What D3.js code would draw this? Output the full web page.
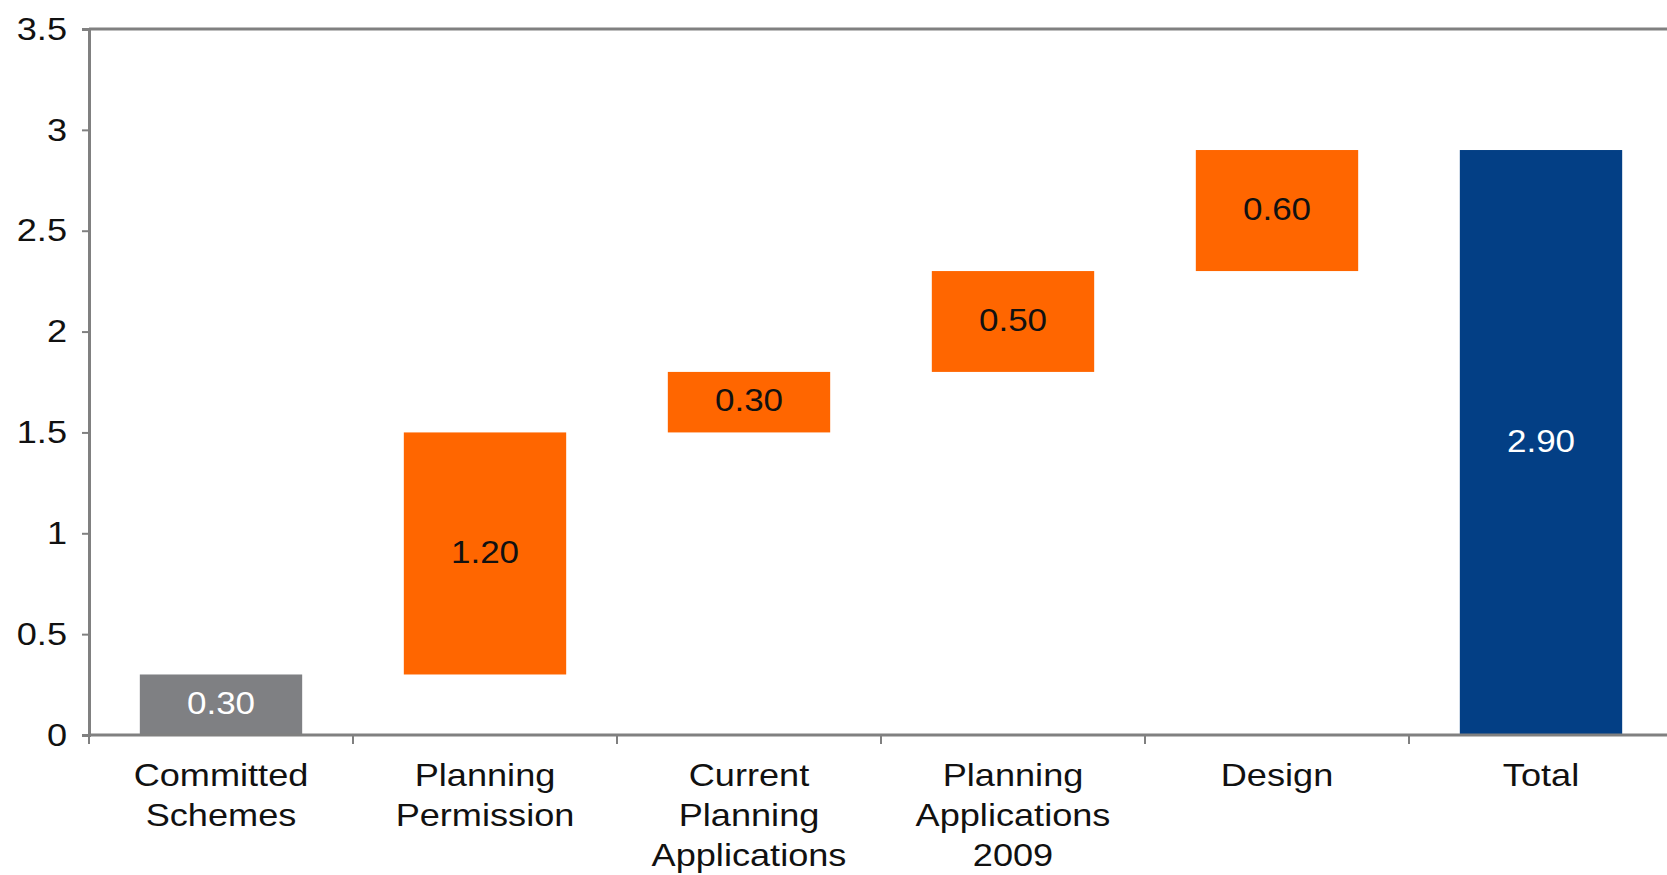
<!DOCTYPE html>
<html>
<head>
<meta charset="utf-8">
<script src="https://cdn.jsdelivr.net/npm/d3@7"></script>
<style>
  body { margin: 0; background: #fff; }
  svg text { font-family: "Liberation Sans", Arial, Helvetica, sans-serif; }
</style>
</head>
<body>
<div id="chart"></div>
<script>
// chart data
const categories = ["Committed Schemes", "Planning Permission", "Current Planning Applications", "Planning Applications 2009", "Design", "Total"];
const categoryLines = [["Committed", "Schemes"], ["Planning", "Permission"], ["Current", "Planning", "Applications"], ["Planning", "Applications", "2009"], ["Design"], ["Total"]];
const values = [0.30, 1.20, 0.30, 0.50, 0.60, 2.90];
const kinds = ["start", "step", "step", "step", "step", "total"];
const yTicks = [0, 0.5, 1, 1.5, 2, 2.5, 3, 3.5];

const colors = { start: "#7f8083", step: "#ff6600", total: "#033f85" };
const labelColors = { start: "#fff", step: "#111", total: "#fff" };

// text in the original is a bit wider than Arial
const stretch = 1.13;

// set the dimensions and margins of the graph
var margin = { top: 29, right: 0, bottom: 140, left: 89 },
  fullW = 1667, fullH = 875,
  height = fullH - margin.top - margin.bottom;

var svg = d3.select("#chart")
  .append("svg")
  .attr("width", fullW)
  .attr("height", fullH)
  .append("g")
  .attr("transform", "translate(" + margin.left + "," + margin.top + ")");

// waterfall bases
let running = 0;
const data = categories.map((c, i) => {
  let lo, hi;
  if (kinds[i] === "total") { lo = 0; hi = values[i]; }
  else { lo = running; hi = running + values[i]; running = hi; }
  return { cat: c, lines: categoryLines[i], value: values[i], kind: kinds[i], lo: lo, hi: hi };
});

var x = d3.scaleBand()
  .domain(categories)
  .range([0, 264 * categories.length])
  .paddingInner(0.385)
  .paddingOuter(0.1925);

var y = d3.scaleLinear()
  .domain([0, 3.5])
  .range([height, 0]);

const axisColor = "#808080";

// Y axis
var yAxis = svg.append("g")
  .call(d3.axisLeft(y).tickValues(yTicks).tickSize(7).tickPadding(13).tickFormat(d => String(d)));
yAxis.select(".domain").attr("stroke", axisColor).attr("stroke-width", 3);
yAxis.selectAll(".tick line").attr("stroke", axisColor).attr("stroke-width", 2);
yAxis.selectAll(".tick text")
  .attr("font-size", 32).attr("fill", "#111")
  .attr("x", -22 / stretch)
  .attr("transform", "scale(" + stretch + ",1)");

// top border
svg.append("line")
  .attr("x1", 0).attr("x2", fullW)
  .attr("y1", y(3.5)).attr("y2", y(3.5))
  .attr("stroke", axisColor).attr("stroke-width", 3);

// bars
svg.selectAll(".bar")
  .data(data)
  .enter()
  .append("rect")
  .attr("class", "bar")
  .attr("x", d => x(d.cat))
  .attr("width", x.bandwidth())
  .attr("y", d => y(d.hi))
  .attr("height", d => y(d.lo) - y(d.hi))
  .attr("fill", d => colors[d.kind]);

// bar value labels
svg.selectAll(".val")
  .data(data)
  .enter()
  .append("text")
  .attr("class", "val")
  .attr("transform", d => "translate(" + (x(d.cat) + x.bandwidth() / 2) + "," + ((y(d.lo) + y(d.hi)) / 2) + ") scale(" + stretch + ",1)")
  .attr("dy", "0.3em")
  .attr("text-anchor", "middle")
  .attr("font-size", 31)
  .attr("fill", d => labelColors[d.kind])
  .text(d => d.value.toFixed(2));

// X axis
var xAxis = svg.append("g")
  .attr("transform", "translate(0," + height + ")");
xAxis.append("line")
  .attr("x1", 0).attr("x2", fullW)
  .attr("stroke", axisColor).attr("stroke-width", 3);

const step = x.step();
xAxis.selectAll(".bound")
  .data(data)
  .enter()
  .append("line")
  .attr("class", "bound")
  .attr("x1", d => x(d.cat) - x.paddingOuter() * step)
  .attr("x2", d => x(d.cat) - x.paddingOuter() * step)
  .attr("y1", 0).attr("y2", 9)
  .attr("stroke", axisColor).attr("stroke-width", 2);

var labels = xAxis.selectAll(".cat")
  .data(data)
  .enter()
  .append("text")
  .attr("class", "cat")
  .attr("transform", d => "translate(" + (x(d.cat) + x.bandwidth() / 2) + ",0) scale(" + stretch + ",1)")
  .attr("text-anchor", "middle")
  .attr("font-size", 32)
  .attr("fill", "#111");
labels.each(function(d) {
  const t = d3.select(this);
  d.lines.forEach((ln, i) => {
    t.append("tspan")
      .attr("x", 0)
      .attr("y", 51 + i * 40)
      .text(ln);
  });
});
</script>
</body>
</html>
